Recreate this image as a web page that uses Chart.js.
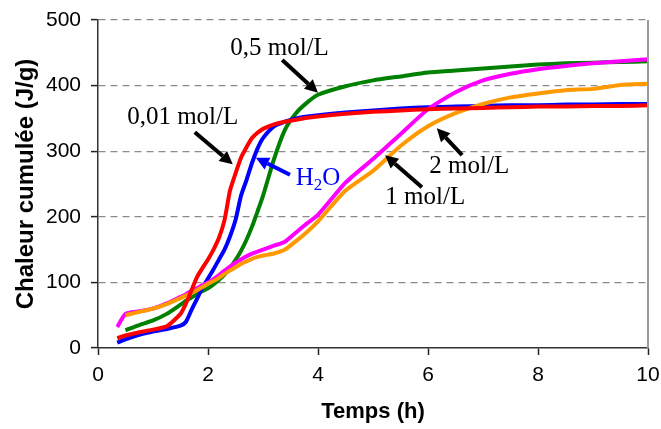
<!DOCTYPE html>
<html><head><meta charset="utf-8">
<script src="https://cdn.jsdelivr.net/npm/chart.js@4/dist/chart.umd.min.js"></script>
<style>html,body{margin:0;padding:0;background:#fff;}#wrap{width:661px;height:429px;position:relative;}</style>
</head><body><div id="wrap"><canvas id="c"></canvas></div>
<script>
// Time (h)
const times = [0.35,0.5,0.75,1.0,1.25,1.5,1.6,1.7,1.8,1.9,2.0,2.1,2.2,2.3,2.4,2.5,2.6,2.7,2.8,2.9,3.0,3.2,3.4,3.6,3.8,4.0,4.5,5.0,5.5,6.0,6.5,7.0,7.5,8.0,8.5,9.0,9.5,10.0];
// Chaleur cumulée (J/g)
const c001 = [15,19,24,28,33,52,68,88,108,122,135,150,168,195,240,266,290,306,320,328,334,341,345,348,351,353,357,360,362,364,365,366,367,368,368,369,369,370];
const h2o  = [8,13,20,25,29,34,40,58,75,92,106,120,135,150,170,195,232,256,282,304,320,338,345,350,353,355,359,362,365,367,368,369,370,370,371,371,372,372];
const c05  = [null,27,35,42,52,66,72,77,82,87,91,97,104,112,122,134,148,165,185,208,232,288,333,358,374,386,399,408,414,420,423,426,429,432,434,435,436,437];
const c1   = [32,52,56,60,68,78,82,87,91,96,100,105,111,118,124,130,135,140,144,147,150,156,162,176,190,203,252,288,326,364,390,408,418,425,430,434,437,440];
const c2   = [null,50,55,60,67,76,80,84,88,93,98,102,107,113,118,123,128,132,136,139,141,144,150,163,177,193,240,270,308,338,358,372,382,388,393,395,401,403];
const yTicks = [0,100,200,300,400,500];
const xTicks = [0,2,4,6,8,10];

// Annotations (data units)
const annotText  = ['0,5 mol/L','0,01 mol/L','H2O','2 mol/L','1 mol/L'];
const annotColor = ['#000','#000','#0000FF','#000','#000'];
const annotX     = [3.30,1.54,4.0,6.75,5.95];
const annotY     = [457,351,259,277,230];
const arrowX1    = [3.35,1.76,3.49,6.62,5.89];
const arrowY1    = [439,329,264,294,245];
const arrowX2    = [4.00,2.45,2.87,6.16,5.22];
const arrowY2    = [389,280,290,335,294];

function drawArrow(ctx,x1,y1,x2,y2,color){
  const a=Math.atan2(y2-y1,x2-x1), hl=13, hw=6.5;
  const bx=x2-hl*Math.cos(a), by=y2-hl*Math.sin(a);
  ctx.strokeStyle=color; ctx.lineWidth=4; ctx.lineCap='butt';
  ctx.beginPath(); ctx.moveTo(x1,y1); ctx.lineTo(bx,by); ctx.stroke();
  ctx.fillStyle=color; ctx.beginPath(); ctx.moveTo(x2,y2);
  ctx.lineTo(bx+hw*Math.sin(a),by-hw*Math.cos(a));
  ctx.lineTo(bx-hw*Math.sin(a),by+hw*Math.cos(a));
  ctx.closePath(); ctx.fill();
}
const serif = '"Liberation Serif","Times New Roman",serif';
const annotPlugin = {
  id:'annot',
  afterDatasetsDraw(chart){
    const {ctx, chartArea, scales:{x,y}} = chart;
    ctx.save();
    ctx.strokeStyle='#999'; ctx.lineWidth=2;
    ctx.beginPath(); ctx.moveTo(chartArea.right, chartArea.top); ctx.lineTo(chartArea.right, chartArea.bottom); ctx.stroke();
    for(let i=0;i<annotText.length;i++){
      drawArrow(ctx,x.getPixelForValue(arrowX1[i]),y.getPixelForValue(arrowY1[i]),x.getPixelForValue(arrowX2[i]),y.getPixelForValue(arrowY2[i]),annotColor[i]);
      const cx=x.getPixelForValue(annotX[i]), cy=y.getPixelForValue(annotY[i]);
      ctx.fillStyle=annotColor[i]; ctx.textBaseline='middle';
      if(annotText[i]==='H2O'){
        ctx.font='25px '+serif; const wH=ctx.measureText('H').width, wO=ctx.measureText('O').width;
        ctx.font='17px '+serif; const w2=ctx.measureText('2').width;
        let sx=cx-(wH+w2+wO)/2; ctx.textAlign='left';
        ctx.font='25px '+serif; ctx.fillText('H',sx,cy);
        ctx.font='17px '+serif; ctx.fillText('2',sx+wH,cy+7);
        ctx.font='25px '+serif; ctx.fillText('O',sx+wH+w2,cy);
      } else {
        ctx.font='25px '+serif; ctx.textAlign='center';
        ctx.fillText(annotText[i],cx,cy);
      }
    }
    ctx.restore();
  }
};

const mk=(label,data,color)=>({label,data,borderColor:color,backgroundColor:color,borderWidth:4,pointRadius:0,tension:0.2,fill:false});
new Chart(document.getElementById('c'),{
  type:'line',
  data:{labels:times,datasets:[
    mk('0,01 mol/L',c001,'#FF0000'),
    mk('2 mol/L',c2,'#FF9900'),
    mk('1 mol/L',c1,'#FF00FF'),
    mk('H2O',h2o,'#0000FF'),
    mk('0,5 mol/L',c05,'#008000')
  ]},
  options:{
    responsive:true, maintainAspectRatio:false, animation:false, devicePixelRatio:1,
    layout:{padding:{top:20,right:13,left:0,bottom:0}},
    plugins:{legend:{display:false},tooltip:{enabled:false}},
    scales:{
      x:{type:'linear',min:0,max:10,
        afterBuildTicks:s=>{s.ticks=xTicks.map(v=>({value:v}));},
        afterFit:s=>{s.height=81;s.paddingRight=0;s.paddingLeft=0;},
        ticks:{font:{family:'Arial, "Liberation Sans"',size:21},color:'#000',padding:8,maxRotation:0},
        grid:{drawOnChartArea:false,drawTicks:true,tickLength:7,tickColor:'#222',tickWidth:1.5},
        border:{display:true,color:'#333',width:1.5},
        title:{display:true,text:'Temps (h)',color:'#000',font:{family:'Arial, "Liberation Sans"',size:22,weight:'bold'},padding:{top:0,bottom:4}}
      },
      y:{min:0,max:500,
        afterBuildTicks:s=>{s.ticks=yTicks.map(v=>({value:v}));},
        afterFit:s=>{s.width=98;s.paddingTop=0;s.paddingBottom=0;},
        ticks:{font:{family:'Arial, "Liberation Sans"',size:21},color:'#000',padding:10},
        grid:{color:c=>c.tick&&c.tick.value===0?'rgba(0,0,0,0)':'#8c8c8c',lineWidth:1.2,drawTicks:true,tickLength:7,tickColor:'#222',tickWidth:1.5,tickBorderDash:[]},
        border:{display:true,color:'#333',width:1.5,dash:[7,5]},
        title:{display:true,text:'Chaleur cumulée (J/g)',color:'#000',font:{family:'Arial, "Liberation Sans"',size:24,weight:'bold'},padding:{top:12,bottom:0}}
      }
    }
  },
  plugins:[annotPlugin]
});
</script></body></html>
